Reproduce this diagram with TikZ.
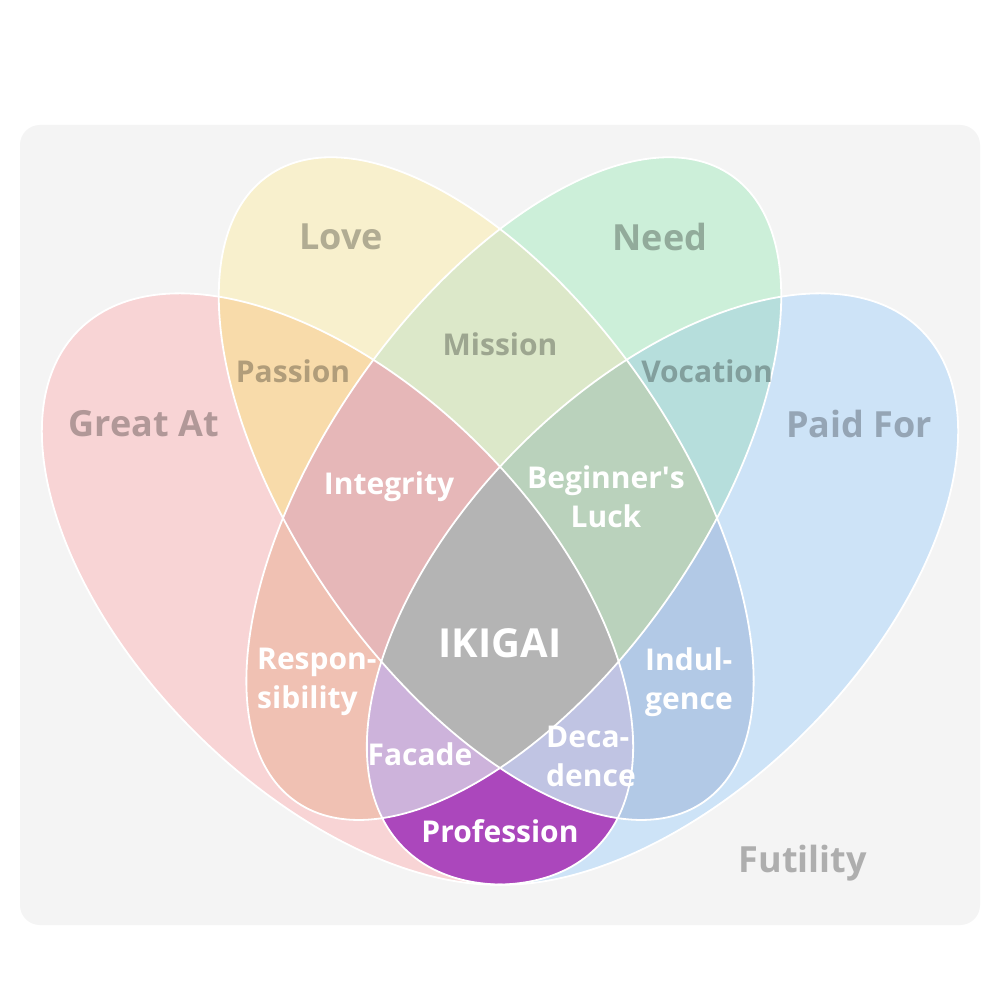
\documentclass[tikz,border=0pt]{standalone}
\usepackage{fontspec}
\setmainfont{Open Sans}
\definecolor{bgC}{HTML}{F4F4F4}
\definecolor{greatC}{HTML}{F8D4D5}
\definecolor{loveC}{HTML}{F8F0CD}
\definecolor{needC}{HTML}{CCEFD9}
\definecolor{paidC}{HTML}{CDE3F7}
\definecolor{passionC}{HTML}{F8DBAA}
\definecolor{missionC}{HTML}{DCE8C9}
\definecolor{vocationC}{HTML}{B6DEDC}
\definecolor{responsC}{HTML}{F0C1B3}
\definecolor{indulgC}{HTML}{B2C9E6}
\definecolor{professC}{HTML}{AB47BC}
\definecolor{integrC}{HTML}{E6B7B8}
\definecolor{luckC}{HTML}{BAD2BC}
\definecolor{facadeC}{HTML}{CDB3DB}
\definecolor{decadC}{HTML}{C0C4E3}
\definecolor{ikigaiC}{HTML}{B4B4B4}
% label colours: the fill of the region, darkened
\definecolor{greatT}{HTML}{B19898}
\definecolor{loveT}{HTML}{B1AC93}
\definecolor{needT}{HTML}{92AB9B}
\definecolor{paidT}{HTML}{95A5B5}
\definecolor{futilT}{HTML}{AEAEAE}
\definecolor{passionT}{HTML}{B19D7A}
\definecolor{missionT}{HTML}{9DA690}
\definecolor{vocationT}{HTML}{829F9D}
\def\petal[#1](#2)(#3:#4:#5){\path[#1, rotate around={#3:(#2)}] (#2) ellipse [x radius=#4, y radius=#5];}
\def\shapeGreat[#1]{\petal[#1](337.5,589)(-45:366:202)}
\def\shapeLove[#1]{\petal[#1](486.2,488.6)(-55.2:381.4:189.2)}
\def\shapeNeed[#1]{\petal[#1](513.8,488.6)(55.2:381.4:189.2)}
\def\shapePaid[#1]{\petal[#1](662.5,589)(45:366:202)}
\tikzset{
	setlabel/.style={font=\fontsize{36}{40}\selectfont\bfseries, inner sep=0},
	duolabel/.style={font=\fontsize{30}{39}\selectfont\bfseries, inner sep=0},
	whitelabel/.style={font=\fontsize{30}{39}\selectfont\bfseries, text=white, inner sep=0, align=left},
}

\begin{document}
\begin{tikzpicture}[x=1pt, y=-1pt]
			%%%%% START %%%%%
			
			\useasboundingbox (0, 0) rectangle (1000, 1000);
			\fill[white] (0, 0) rectangle (1000, 1000);
			\fill[bgC, rounded corners=20pt] (20, 125) rectangle (980, 925);
			
			% one set
			\shapeGreat[fill=greatC]
			\shapeLove[fill=loveC]
			\shapeNeed[fill=needC]
			\shapePaid[fill=paidC]
			
			% two sets
			\begin{scope} \shapeGreat[clip] \shapeLove[fill=passionC] \end{scope}
			\begin{scope} \shapeGreat[clip] \shapeNeed[fill=responsC] \end{scope}
			\begin{scope} \shapeGreat[clip] \shapePaid[fill=professC] \end{scope}
			\begin{scope} \shapeLove[clip] \shapeNeed[fill=missionC] \end{scope}
			\begin{scope} \shapeLove[clip] \shapePaid[fill=indulgC] \end{scope}
			\begin{scope} \shapeNeed[clip] \shapePaid[fill=vocationC] \end{scope}
			
			% three sets
			\begin{scope} \shapeGreat[clip] \shapeLove[clip] \shapeNeed[fill=integrC] \end{scope}
			\begin{scope} \shapeLove[clip] \shapeNeed[clip] \shapePaid[fill=luckC] \end{scope}
			\begin{scope} \shapeGreat[clip] \shapeNeed[clip] \shapePaid[fill=facadeC] \end{scope}
			\begin{scope} \shapeGreat[clip] \shapeLove[clip] \shapePaid[fill=decadC] \end{scope}
			
			% all four
			\begin{scope} \shapeGreat[clip] \shapeLove[clip] \shapeNeed[clip] \shapePaid[fill=ikigaiC] \end{scope}
			
			\shapeGreat[draw=white, line width=1.8pt]
			\shapeLove[draw=white, line width=1.8pt]
			\shapeNeed[draw=white, line width=1.8pt]
			\shapePaid[draw=white, line width=1.8pt]
			
			\node[setlabel, text=loveT] (love) at (341, 237) {Love};
			\node[setlabel, text=needT] (need) at (660, 237) {Need};
			\node[setlabel, text=greatT] (greatat) at (144, 424) {Great At};
			\node[setlabel, text=paidT] (paidfor) at (859, 424) {Paid For};
			\node[setlabel, text=futilT] (futility) at (803, 863) {Futility};
			
			\node[duolabel, text=passionT] (passion) at (293, 371) {Passion};
			\node[duolabel, text=missionT] (mission) at (500, 344) {Mission};
			\node[duolabel, text=vocationT] (vocation) at (707, 371) {Vocation};
			
			\node[whitelabel] (integrity) at (389, 487) {Integrity};
			\node[whitelabel, align=center] (luck) at (606, 497) {Beginner\textquotesingle s\\Luck};
			\node[whitelabel, font=\fontsize{40}{40}\selectfont\bfseries] (ikigai) at (500, 643) {IKIGAI};
			\node[whitelabel, anchor=west] (respons) at (257, 682) {Respon-\\sibility};
			\node[whitelabel, anchor=west] (indulg) at (645, 682) {Indul-\\gence};
			\node[whitelabel] (facade) at (420, 754) {Facade};
			\node[whitelabel, anchor=west] (decad) at (546, 756) {Deca-\\dence};
			\node[whitelabel] (profess) at (500, 831) {Profession};
			
			%%%%% END %%%%%
\end{tikzpicture}
\end{document}
